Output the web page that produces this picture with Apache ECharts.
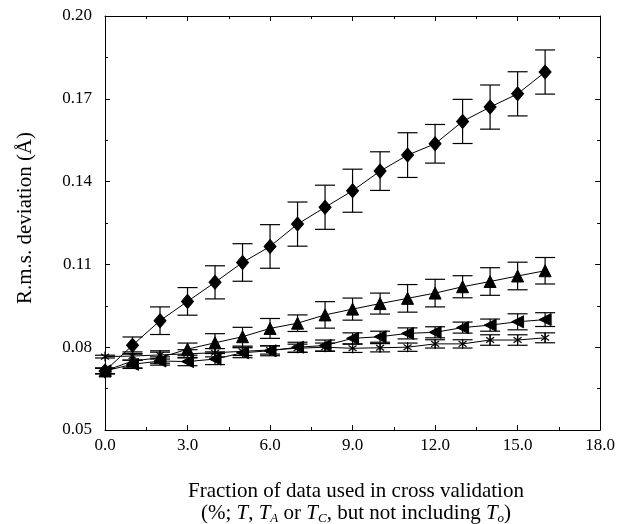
<!DOCTYPE html>
<html>
<head>
<meta charset="utf-8">
<script src="https://cdn.jsdelivr.net/npm/echarts@6/dist/echarts.min.js"></script>
<style>html,body{margin:0;padding:0;background:#fff}#c{width:618px;height:524px}</style>
</head>
<body>
<div id="c"></div>
<script>
// x positions (% of data used in cross validation)
var xs = [0,1,2,3,4,5,6,7,8,9,10,11,12,13,14,15,16];
// diamond series
var diamondMean = [0.0714,0.0807,0.0896,0.0966,0.1035,0.1107,0.1165,0.1246,0.1307,0.1367,0.1438,0.1496,0.1537,0.1618,0.1670,0.1718,0.1797];
var diamondErr  = [0.0010,0.0030,0.0050,0.0050,0.0060,0.0068,0.0079,0.0080,0.0080,0.0078,0.0070,0.0081,0.0070,0.0080,0.0080,0.0080,0.0080];
// up-triangle series
var triMean = [0.0714,0.0750,0.0762,0.0793,0.0816,0.0838,0.0868,0.0887,0.0917,0.0938,0.0958,0.0977,0.0996,0.1019,0.1038,0.1058,0.1077];
var triErr  = [0.0010,0.0025,0.0020,0.0022,0.0033,0.0034,0.0036,0.0030,0.0048,0.0040,0.0038,0.0050,0.0050,0.0040,0.0050,0.0050,0.0048];
// left-triangle series
var leftMean = [0.0714,0.0738,0.0750,0.0748,0.0757,0.0780,0.0787,0.0800,0.0806,0.0832,0.0838,0.0850,0.0854,0.0871,0.0880,0.0892,0.0900];
var leftErr  = [0.0010,0.0015,0.0015,0.0015,0.0020,0.0018,0.0018,0.0018,0.0020,0.0020,0.0020,0.0020,0.0020,0.0020,0.0022,0.0029,0.0025];
// asterisk series
var starMean = [0.0766,0.0768,0.0772,0.0776,0.0780,0.0785,0.0790,0.0796,0.0800,0.0796,0.0798,0.0800,0.0812,0.0812,0.0826,0.0826,0.0834];
var starErr  = [0.0005,0.0015,0.0015,0.0015,0.0015,0.0015,0.0015,0.0015,0.0015,0.0015,0.0015,0.0015,0.0015,0.0015,0.0019,0.0019,0.0018];
// axis ticks
var xMin = 0, xMax = 18, xStep = 3;
var yMin = 0.05, yMax = 0.20, yStep = 0.03;

var FONT = '"Liberation Serif", "DejaVu Serif", serif';
var BLACK = '#000';

function pairs(m){ return xs.map(function(x,i){ return [x, m[i]]; }); }
function triples(m,e){ return xs.map(function(x,i){ return [x, m[i], e[i]]; }); }

function errRender(params, api){
  var x = api.value(0), m = api.value(1), e = api.value(2);
  var t = api.coord([x, m + e]), b = api.coord([x, m - e]);
  var hw = 10;
  var st = {stroke: BLACK, lineWidth: 1.2};
  return {type:'group', children:[
    {type:'line', shape:{x1:t[0],y1:t[1],x2:b[0],y2:b[1]}, style:st},
    {type:'line', shape:{x1:t[0]-hw,y1:t[1],x2:t[0]+hw,y2:t[1]}, style:st},
    {type:'line', shape:{x1:b[0]-hw,y1:b[1],x2:b[0]+hw,y2:b[1]}, style:st}
  ]};
}
function starRender(params, api){
  var p = api.coord([api.value(0), api.value(1)]);
  var r = 5, d = r*0.8;
  var st = {stroke: BLACK, lineWidth: 1.2};
  return {type:'group', children:[
    {type:'line', shape:{x1:p[0],y1:p[1]-r,x2:p[0],y2:p[1]+r}, style:st},
    {type:'line', shape:{x1:p[0]-d,y1:p[1]-d*0.7,x2:p[0]+d,y2:p[1]+d*0.7}, style:st},
    {type:'line', shape:{x1:p[0]-d,y1:p[1]+d*0.7,x2:p[0]+d,y2:p[1]-d*0.7}, style:st}
  ]};
}

function errSeries(m,e){
  return {type:'custom', renderItem: errRender, data: triples(m,e), z: 2, silent:true, xAxisIndex:0, yAxisIndex:0};
}
function lineSeries(m, sym, size, rot){
  return {type:'line', data: pairs(m), symbol: sym, symbolSize: size, symbolRotate: rot || 0,
    lineStyle:{color:BLACK,width:1}, itemStyle:{color:BLACK, borderColor: BLACK}, z:3, animation:false, silent:true,
    xAxisIndex:0, yAxisIndex:0};
}

var axisCommon = {
  axisLine:{show:true, onZero:false, lineStyle:{color:BLACK,width:1}},
  axisTick:{show:true, inside:true, length:5, lineStyle:{color:BLACK,width:1}},
  minorTick:{show:true, splitNumber:2, length:3, lineStyle:{color:BLACK,width:1}},
  splitLine:{show:false}
};
function merge(a,b){ var o={}; for(var k in a) o[k]=a[k]; for(var k2 in b) o[k2]=b[k2]; return o; }

var chart = echarts.init(document.getElementById('c'), null, {renderer:'canvas'});
chart.setOption({
  animation:false,
  backgroundColor:'#fff',
  grid:{left:105, right:14, top:16, bottom:94},
  xAxis:[
    merge(axisCommon, {type:'value', position:'bottom', min:xMin, max:xMax, interval:xStep,
      axisLabel:{color:BLACK, fontFamily:FONT, fontSize:17, margin:7, formatter:function(v){return v.toFixed(1);}}}),
    merge(axisCommon, {type:'value', position:'top', min:xMin, max:xMax, interval:xStep, axisLabel:{show:false}})
  ],
  yAxis:[
    merge(axisCommon, {type:'value', position:'left', min:yMin, max:yMax, interval:yStep,
      axisLabel:{color:BLACK, fontFamily:FONT, fontSize:17, margin:13, formatter:function(v){return v.toFixed(2);}}}),
    merge(axisCommon, {type:'value', position:'right', min:yMin, max:yMax, interval:yStep, axisLabel:{show:false}})
  ],
  series:[
    errSeries(diamondMean, diamondErr),
    errSeries(triMean, triErr),
    errSeries(leftMean, leftErr),
    errSeries(starMean, starErr),
    lineSeries(diamondMean, 'diamond', [12,14]),
    lineSeries(triMean, 'triangle', [12,12]),
    lineSeries(leftMean, 'triangle', [12,12], 90),
    lineSeries(starMean, 'none', 1),
    {type:'custom', renderItem: starRender, data: pairs(starMean), z:4, silent:true}
  ],
  graphic:[
    {type:'text', x:25, y:218, rotation:Math.PI/2, style:{text:'R.m.s. deviation (Å)', fill:BLACK,
      font:'21px ' + FONT, textAlign:'center', textVerticalAlign:'middle', verticalAlign:'middle'}},
    {type:'text', x:356, y:491, style:{text:'Fraction of data used in cross validation', fill:BLACK,
      font:'21px ' + FONT, textAlign:'center', textVerticalAlign:'middle', verticalAlign:'middle'}},
    {type:'text', x:356, y:513, style:{
      text:'(%; {i|T}, {i|T}{s|A} or {i|T}{s|C}, but not including {i|T}{s|o})', fill:BLACK,
      font:'21px ' + FONT, textAlign:'center', textVerticalAlign:'middle', verticalAlign:'middle',
      rich:{
        i:{fontFamily:FONT, fontSize:21, fontStyle:'italic', fill:BLACK, color:BLACK},
        s:{fontFamily:FONT, fontSize:13, fontStyle:'italic', fill:BLACK, color:BLACK, padding:[11,0,0,0]}
      }}}
  ]
});
</script>
</body>
</html>
